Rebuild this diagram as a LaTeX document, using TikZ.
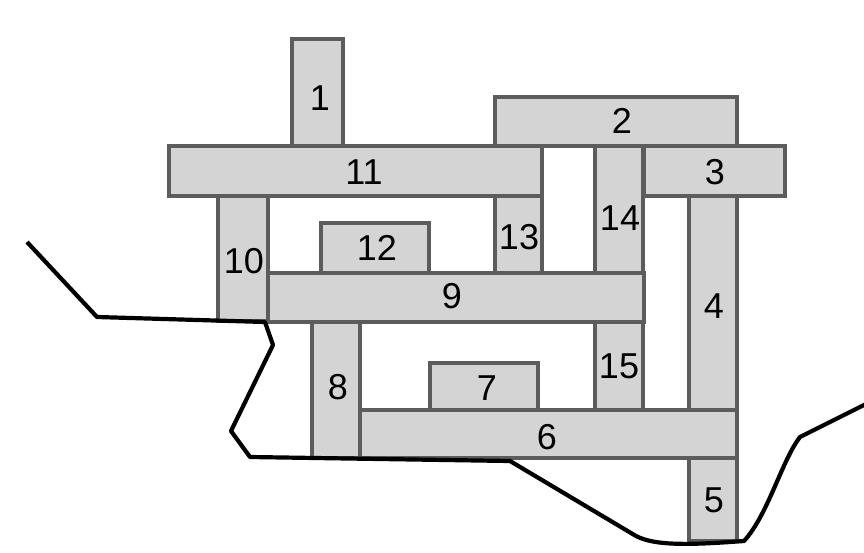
\documentclass[tikz,border=0pt]{standalone}
\usepackage{fontspec}
\setmainfont{Liberation Sans}
\definecolor{boxfill}{HTML}{D4D4D4}
\definecolor{boxline}{HTML}{5C5C5C}
\begin{document}
\begin{tikzpicture}[x=1pt,y=-1pt,
  brick/.style={fill=boxfill,draw=boxline,line width=3.4pt},
  num/.style={inner sep=0pt,font=\fontsize{36}{36}\selectfont},
  edge/.style={draw=black,line width=4.2pt,line join=round}]
\useasboundingbox (0,0) rectangle (864,553);
\fill[white] (0,0) rectangle (864,553);
% bricks
\path[brick] (292,39) rectangle (343,146) coordinate (r1);
\path[brick] (495,97) rectangle (737,146) coordinate (r2);
\path[brick] (169,146) rectangle (542,196) coordinate (r11);
\path[brick] (644,146) rectangle (785,196) coordinate (r3);
\path[brick] (595,146) rectangle (643,273) coordinate (r14);
\path[brick] (218,196) rectangle (268,321) coordinate (r10);
\path[brick] (495,196) rectangle (542,273) coordinate (r13);
\path[brick] (321,223) rectangle (429,273) coordinate (r12);
\path[brick] (689,196) rectangle (737,410) coordinate (r4);
\path[brick] (268,273) rectangle (644,322) coordinate (r9);
\path[brick] (595,322) rectangle (643,410) coordinate (r15);
\path[brick] (430,363) rectangle (538,410) coordinate (r7);
\path[brick] (312,322) rectangle (360,458) coordinate (r8);
\path[brick] (360,410) rectangle (737,458) coordinate (r6);
\path[brick] (689,458) rectangle (737,541) coordinate (r5);
% labels
\node[num] (l1) at (320,98) {1};
\node[num] (l2) at (622,121) {2};
\node[num] (l3) at (715,172) {3};
\node[num] (l4) at (714,306) {4};
\node[num] (l5) at (714,500) {5};
\node[num] (l6) at (547,437) {6};
\node[num] (l7) at (487,388) {7};
\node[num] (l8) at (338,387) {8};
\node[num] (l9) at (452,296) {9};
\node[num] (l10) at (244,261) {10};
\node[num] (l11) at (364,172) {11};
\node[num] (l12) at (377,248) {12};
\node[num] (l13) at (519,237) {13};
\node[num] (l14) at (620,218) {14};
\node[num] (l15) at (619,366) {15};
% boundary line
\coordinate (b0) at (27,242);
\coordinate (b1) at (97,317);
\coordinate (b2) at (265,322);
\coordinate (b3) at (273,345);
\coordinate (b4) at (231,431);
\coordinate (b5) at (250,457);
\coordinate (b6) at (510,461);
\coordinate (b7) at (636,536);
\coordinate (b8) at (744,541);
\coordinate (b9) at (800,437);
\coordinate (b10) at (866,404);
\draw[edge] (b0) -- (b1) -- (b2) -- (b3) -- (b4) -- (b5) -- (b6) -- (b7)
  .. controls (655,546) and (690,545) .. (b8)
  .. controls (768,515) and (782,460) .. (b9) -- (b10);
\end{tikzpicture}
\end{document}
